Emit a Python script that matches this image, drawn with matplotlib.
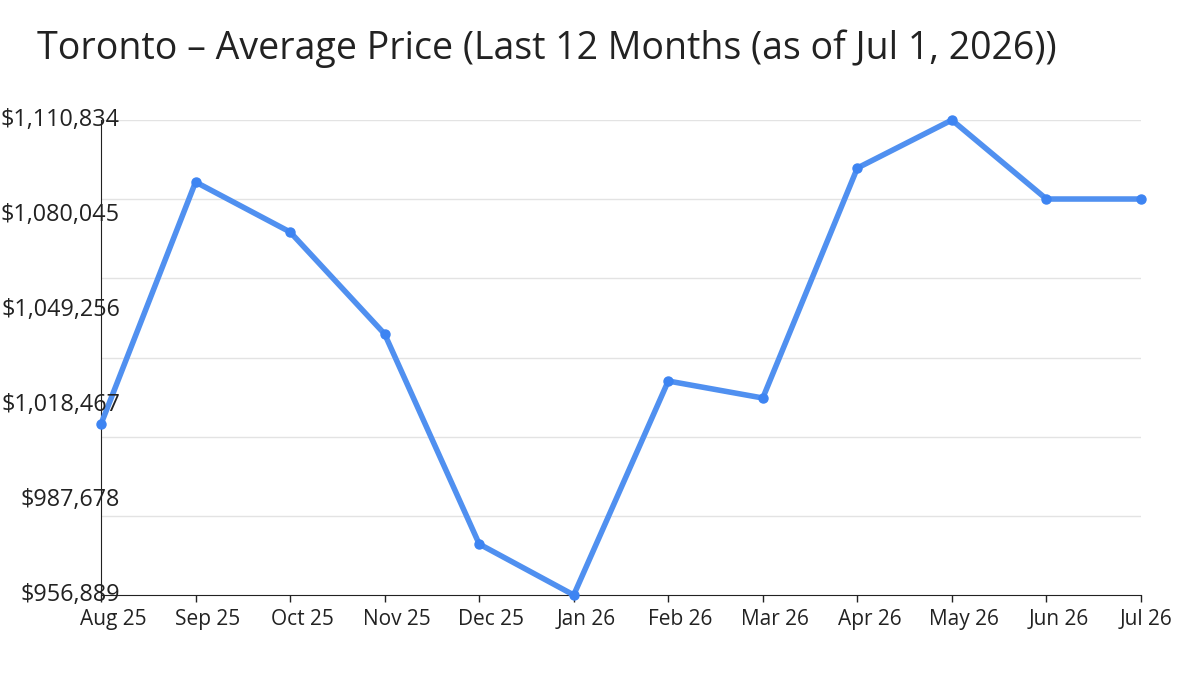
import numpy as np
import matplotlib
matplotlib.use('Agg')
from matplotlib import pyplot as plt
from matplotlib import transforms as mtrans

months = ['Aug 25', 'Sep 25', 'Oct 25', 'Nov 25', 'Dec 25', 'Jan 26',
          'Feb 26', 'Mar 26', 'Apr 26', 'May 26', 'Jun 26', 'Jul 26']
prices = [1012309, 1090738, 1074534, 1041477, 973418, 956889,
          1026244, 1020735, 1095275, 1110834, 1085229, 1085229]
tick_labels = ['$956,889', '$987,678', '$1,018,467', '$1,049,256',
               '$1,080,045', '$1,110,834']

def main():

    plt.rcParams['font.family'] = ['Open Sans', 'DejaVu Sans']

    fig = plt.figure(figsize=(12, 6.75), dpi=100)
    ax = fig.add_axes([0.0842, 0.1185, 0.8666, 0.7037])

    ymin, ymax = min(prices), max(prices)
    x = np.arange(len(months))

    # Grid lines (6 intervals) drawn by hand, tick labels (5 intervals) as text
    for g in np.linspace(ymin, ymax, 7)[1:]:
        ax.axhline(g, color='#e3e3e3', lw=1, zorder=0)

    ax.plot(x, prices, color='#5090f0', lw=4.0, solid_capstyle='round',
            marker='o', ms=6.5, mfc='#3d84f2', mec='#3d84f2',
            clip_on=False, zorder=3)

    ax.set_xlim(0, len(months) - 1)
    ax.set_ylim(ymin, ymax)
    ax.set_xticks(x)
    ax.set_xticklabels(months, fontsize=15, color='#222222')
    ax.tick_params(axis='x', length=5, width=1, pad=3, color='#222222')
    ax.set_yticks([])

    # x labels sit a little right of their ticks
    for i, lab in enumerate(ax.get_xticklabels()):
        dx = 5 / 72 if i == len(months) - 1 else 12 / 72
        lab.set_transform(lab.get_transform() +
                          mtrans.ScaledTranslation(dx * 0.72, -2 / 72, fig.dpi_scale_trans))

    tr = mtrans.blended_transform_factory(fig.transFigure, ax.transData)
    for v, lab in zip(np.linspace(ymin, ymax, 6), tick_labels):
        ax.text(0.1, v, lab, transform=tr, ha='right', va='center',
                fontsize=16.8, color='#222222', clip_on=False)

    for s in ['top', 'right']:
        ax.spines[s].set_visible(False)
    ax.spines['left'].set_color('#222222')
    ax.spines['bottom'].set_color('#222222')

    fig.text(0.031, 0.928, 'Toronto \u2013 Average Price (Last 12 Months (as of Jul 1, 2026))',
             fontsize=27, color='#222222', ha='left', va='center')

    fig.savefig('out.png', dpi=100)
    plt.close()

if __name__ == '__main__': main()
